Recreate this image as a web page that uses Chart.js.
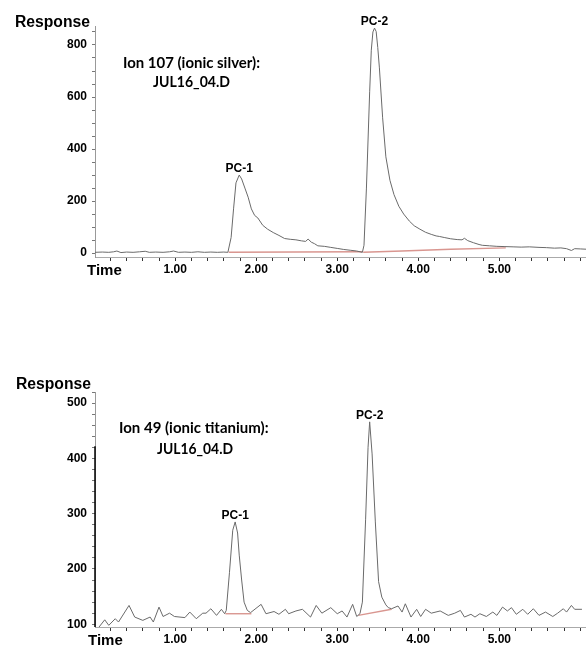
<!DOCTYPE html>
<html>
<head>
<meta charset="utf-8">
<script src="https://cdn.jsdelivr.net/npm/chart.js@4.4.0/dist/chart.umd.min.js"></script>
<style>
  body { margin: 0; background: #fff; width: 586px; height: 645px; overflow: hidden; position: relative; }
  canvas { position: absolute; left: 0; }
</style>
</head>
<body>
<canvas id="silver" width="586" height="290" style="top:0"></canvas>
<canvas id="titanium" width="586" height="282" style="top:365px"></canvas>
<script>
// time axis (minutes)
const timeLabels = [1, 2, 3, 4, 5];

// Ion 107 trace
const silverTime = [0.01, 0.10, 0.18, 0.24, 0.28, 0.33, 0.40, 0.48, 0.56, 0.63, 0.68, 0.76, 0.85, 0.93, 0.98,
  1.04, 1.12, 1.20, 1.28, 1.36, 1.44, 1.52, 1.60, 1.65, 1.69, 1.72, 1.75, 1.79, 1.82, 1.86, 1.90, 1.94, 1.98,
  2.02, 2.08, 2.14, 2.21, 2.28, 2.35, 2.42, 2.49, 2.56, 2.61, 2.64, 2.68, 2.72, 2.76, 2.84, 2.92, 3.00, 3.08,
  3.16, 3.24, 3.31, 3.33, 3.36, 3.40, 3.42, 3.44, 3.46, 3.48, 3.50, 3.52, 3.56, 3.60, 3.65, 3.70, 3.76, 3.82,
  3.89, 3.95, 4.02, 4.09, 4.16, 4.22, 4.26, 4.32, 4.40, 4.48, 4.54, 4.57, 4.61, 4.68, 4.75, 4.79, 4.88, 4.97,
  5.07, 5.17, 5.27, 5.37, 5.49, 5.58, 5.68, 5.76, 5.83, 5.89, 5.93, 6.00, 6.07];
const silverResp = [3, 4, 3, 5, 8, 2, 4, 3, 5, 7, 3, 4, 3, 5, 8,
  3, 4, 3, 5, 3, 4, 3, 4, 3, 60, 170, 270, 300, 285, 250, 215, 170, 145,
  135, 107, 92, 79, 68, 56, 53, 51, 47, 45, 54, 42, 36, 28, 26, 22, 18, 14,
  11, 8, 3, 30, 250, 620, 780, 850, 865, 852, 790, 712, 520, 370, 280, 225, 180, 150,
  123, 105, 92, 80, 72, 66, 64, 60, 55, 52, 51, 57, 48, 40, 33, 30, 28, 26,
  25, 24, 23, 24, 22, 21, 19, 20, 17, 10, 17, 16, 15];
const silverBase1Time = [1.66, 3.31];
const silverBase1Resp = [3, 5];
const silverBase2Time = [3.32, 3.80, 4.40, 5.08];
const silverBase2Resp = [3, 8, 15, 20];
const silverYLabels = [0, 200, 400, 600, 800];
const silverPeakNames = ['PC-1', 'PC-2'];
const silverPeakTime = [1.79, 3.46];

// Ion 49 trace
const titaniumTime = [0.06, 0.13, 0.18, 0.26, 0.30, 0.43, 0.50, 0.60, 0.69, 0.73, 0.80, 0.85, 0.93, 0.99,
  1.12, 1.18, 1.26, 1.34, 1.38, 1.44, 1.51, 1.57, 1.61, 1.63, 1.67, 1.71, 1.74, 1.77, 1.79, 1.82, 1.85, 1.89, 1.93,
  2.06, 2.12, 2.22, 2.28, 2.36, 2.40, 2.49, 2.57, 2.67, 2.74, 2.81, 2.92, 3.00, 3.06, 3.12, 3.19, 3.24,
  3.28, 3.31, 3.35, 3.38, 3.40, 3.43, 3.47, 3.51, 3.55, 3.60, 3.63, 3.67, 3.75, 3.80, 3.84, 3.91, 3.98,
  4.03, 4.09, 4.16, 4.27, 4.37, 4.45, 4.52, 4.57, 4.65, 4.70, 4.76, 4.84, 4.92, 4.97, 5.04, 5.10, 5.15,
  5.21, 5.29, 5.35, 5.42, 5.49, 5.57, 5.66, 5.72, 5.79, 5.83, 5.89, 5.93, 6.02];
const titaniumResp = [95, 108, 98, 110, 104, 134, 113, 107, 113, 104, 131, 114, 120, 114,
  112, 122, 110, 120, 120, 128, 116, 127, 119, 125, 194, 270, 285, 265, 225, 180, 140, 125, 121,
  136, 119, 123, 118, 127, 119, 124, 127, 113, 134, 120, 130, 119, 124, 113, 136, 114,
  119, 140, 290, 420, 466, 408, 285, 177, 149, 135, 130, 128, 133, 122, 137, 113, 127,
  114, 127, 120, 124, 116, 120, 125, 113, 118, 113, 119, 114, 122, 116, 131, 124, 130,
  118, 127, 118, 128, 116, 122, 114, 120, 128, 122, 134, 127, 127];
const titaniumBase1Time = [1.62, 1.94];
const titaniumBase1Resp = [119, 119];
const titaniumBase2Time = [3.26, 3.67];
const titaniumBase2Resp = [116, 127];
const titaniumYLabels = [100, 200, 300, 400, 500];
const titaniumPeakNames = ['PC-1', 'PC-2'];
const titaniumPeakTime = [1.74, 3.40];

Chart.defaults.font.family = '"Liberation Sans", Arial, sans-serif';

const notesPlugin = {
  id: 'notes',
  afterDraw(chart, args, opts) {
    const ctx = chart.ctx;
    ctx.save();
    ctx.fillStyle = '#000';
    // solid piece of the y axis (instrument plot artefact)
    if (opts.solidAxisFrom !== undefined) {
      const ys = chart.scales.y;
      ctx.strokeStyle = '#000';
      ctx.lineWidth = 1.5;
      ctx.beginPath();
      ctx.moveTo(chart.chartArea.left, ys.getPixelForValue(opts.solidAxisFrom));
      ctx.lineTo(chart.chartArea.left, chart.chartArea.bottom);
      ctx.stroke();
    }
    ctx.textBaseline = 'alphabetic';
    ctx.textAlign = 'left';
    (opts.texts || []).forEach(t => {
      ctx.font = t.font;
      ctx.fillText(t.text, t.x, t.y, t.w);
    });
    // peak names sit just above the apex of the trace
    const meta = chart.getDatasetMeta(0);
    const trace = chart.data.datasets[0].data;
    ctx.textAlign = 'center';
    ctx.font = 'bold 12px "Liberation Sans", Arial, sans-serif';
    opts.peakNames.forEach((name, i) => {
      const idx = trace.findIndex(p => Math.abs(p.x - opts.peakTime[i]) < 1e-6);
      const el = meta.data[idx];
      ctx.fillText(name, el.x, el.y - 3);
    });
    ctx.restore();
  }
};

function pairs(xs, ys) {
  return xs.map((x, i) => ({ x: x, y: ys[i] }));
}

function buildChart(id, o) {
  const datasets = [{ data: pairs(o.time, o.resp), borderColor: '#6a6a6a', borderWidth: 1 }];
  o.baselines.forEach(b => {
    datasets.push({ data: pairs(b[0], b[1]), borderColor: '#d99690', borderWidth: 1.4 });
  });
  return new Chart(document.getElementById(id), {
    type: 'line',
    data: { datasets },
    options: {
      responsive: false,
      animation: false,
      layout: { padding: { top: o.padTop, bottom: o.padBottom, left: 0, right: 0 } },
      elements: { point: { radius: 0 }, line: { tension: 0 } },
      plugins: {
        legend: { display: false },
        tooltip: { enabled: false },
        notes: { texts: o.texts, peakNames: o.peakNames, peakTime: o.peakTime, solidAxisFrom: o.solidAxisFrom }
      },
      scales: {
        x: {
          type: 'linear', min: 0.01, max: 6.07,
          afterFit: s => { s.height = 20; },
          border: { color: '#aaa', width: 1 },
          grid: { drawOnChartArea: false, tickLength: 4, color: '#333' },
          ticks: {
            stepSize: 0.2, includeBounds: false, autoSkip: false, maxRotation: 0, padding: 1,
            color: '#000', font: { size: 12, weight: 'bold' },
            callback: v => timeLabels.some(l => Math.abs(l - v) < 1e-6) ? v.toFixed(2) : ''
          }
        },
        y: {
          min: o.yMin, max: o.yMax,
          afterFit: s => { s.width = 95; },
          border: { color: '#999', width: 1, dash: [1, 2] },
          grid: { drawOnChartArea: false, tickLength: 3, color: '#777' },
          ticks: {
            stepSize: o.yStep, includeBounds: false, autoSkip: false, padding: 5,
            color: '#000', font: { size: 12, weight: 'bold' },
            callback: v => o.yLabels.includes(v) ? String(v) : ''
          }
        }
      }
    },
    plugins: [notesPlugin]
  });
}

const headFont = 'bold 16px "Liberation Sans", Arial, sans-serif';
const timeFont = 'bold 15px "Liberation Sans", Arial, sans-serif';
const noteFont = 'bold 15px Lato, "Open Sans", sans-serif';

buildChart('silver', {
  time: silverTime, resp: silverResp,
  baselines: [[silverBase1Time, silverBase1Resp], [silverBase2Time, silverBase2Resp]],
  yMin: -15, yMax: 873, yStep: 50, yLabels: silverYLabels,
  padTop: 26, padBottom: 13,
  peakNames: silverPeakNames, peakTime: silverPeakTime,
  texts: [
    { text: 'Response', x: 15, y: 27, w: 75, font: headFont },
    { text: 'Time', x: 87, y: 275, w: 35, font: timeFont },
    { text: 'Ion 107 (ionic silver):', x: 123, y: 68, w: 137, font: noteFont },
    { text: 'JUL16_04.D', x: 153, y: 87, w: 77, font: noteFont }
  ]
});

buildChart('titanium', {
  time: titaniumTime, resp: titaniumResp,
  baselines: [[titaniumBase1Time, titaniumBase1Resp], [titaniumBase2Time, titaniumBase2Resp]],
  yMin: 95, yMax: 520, yStep: 20, yLabels: titaniumYLabels,
  padTop: 27, padBottom: 0,
  peakNames: titaniumPeakNames, peakTime: titaniumPeakTime,
  solidAxisFrom: 422,
  texts: [
    { text: 'Response', x: 16, y: 24, w: 75, font: headFont },
    { text: 'Time', x: 88, y: 280, w: 35, font: timeFont },
    { text: 'Ion 49 (ionic titanium):', x: 119, y: 68, w: 150, font: noteFont },
    { text: 'JUL16_04.D', x: 157, y: 89, w: 76, font: noteFont }
  ]
});
</script>
</body>
</html>
